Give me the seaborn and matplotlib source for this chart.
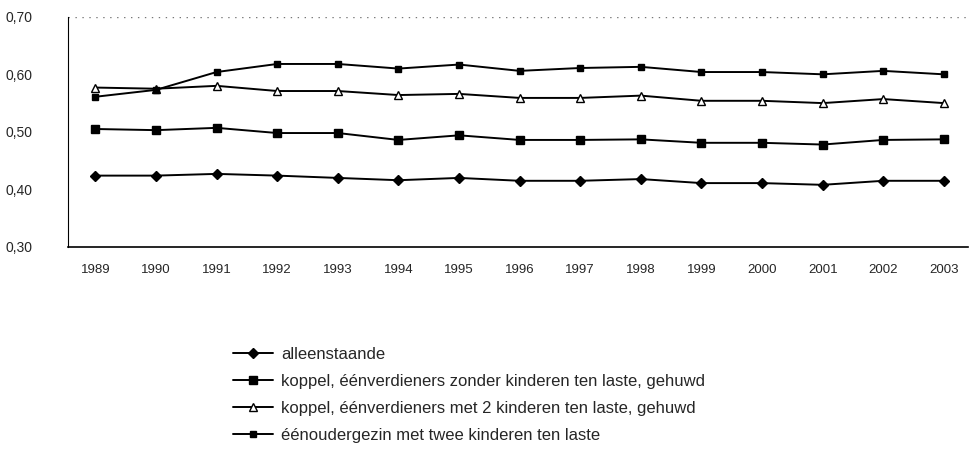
import numpy as np
import pandas as pd
import matplotlib
matplotlib.use("Agg")
import matplotlib.pyplot as plt
import seaborn as sns

# ========================
# Data
# ========================
years = list(range(1989, 2004))

alleenstaande = [0.424, 0.424, 0.427, 0.424, 0.420, 0.416, 0.420, 0.415,
                 0.415, 0.418, 0.411, 0.411, 0.408, 0.415, 0.415]
koppel_zonder = [0.505, 0.503, 0.507, 0.498, 0.498, 0.486, 0.494, 0.486,
                 0.486, 0.487, 0.481, 0.481, 0.478, 0.486, 0.487]
koppel_met2 = [0.577, 0.575, 0.580, 0.571, 0.571, 0.564, 0.566, 0.559,
               0.559, 0.563, 0.554, 0.554, 0.550, 0.557, 0.550]
eenouder = [0.561, 0.573, 0.604, 0.618, 0.618, 0.610, 0.617, 0.606,
            0.611, 0.613, 0.604, 0.604, 0.600, 0.606, 0.600]

labels = [
    "alleenstaande",
    "koppel, éénverdieners zonder kinderen ten laste, gehuwd",
    "koppel, éénverdieners met 2 kinderen ten laste, gehuwd",
    "éénoudergezin met twee kinderen ten laste",
]
yticks = [0.30, 0.40, 0.50, 0.60, 0.70]

series = [alleenstaande, koppel_zonder, koppel_met2, eenouder]
styles = [
    dict(marker="D", markersize=5, markerfacecolor="black"),
    dict(marker="s", markersize=6, markerfacecolor="black"),
    dict(marker="^", markersize=6, markerfacecolor="white"),
    dict(marker="s", markersize=4, markerfacecolor="black"),
]

df = pd.DataFrame({
    "jaar": years * len(series),
    "waarde": np.concatenate(series),
    "reeks": np.repeat(labels, len(years)),
})

# ========================
# Plot
# ========================
sns.set_style("white")
plt.rcParams["font.family"] = ["Liberation Sans", "DejaVu Sans"]

fig = plt.figure(figsize=(9.73, 4.66), dpi=100)
ax = fig.add_axes([0.070, 0.47, 0.925, 0.494])

for lab, st in zip(labels, styles):
    sub = df[df["reeks"] == lab]
    sns.lineplot(data=sub, x="jaar", y="waarde", ax=ax, color="black",
                 linewidth=1.4, markeredgecolor="black", markeredgewidth=1.0,
                 label=lab, **st)

ax.set_xlim(1988.55, 2003.4)
ax.set_ylim(0.30, 0.70)
ax.set_xticks(years)
ax.set_xticklabels([str(y) for y in years], fontsize=9.5)
ax.set_yticks(yticks)
ax.set_yticklabels([f"{v:.2f}".replace(".", ",") for v in yticks], fontsize=10)
ax.set_xlabel("")
ax.set_ylabel("")
ax.axhline(0.70, color="#777777", linestyle=(0, (1, 4)), linewidth=1.0)

sns.despine(ax=ax, top=True, right=True)
ax.spines["left"].set_color("black")
ax.spines["bottom"].set_color("black")
ax.spines["bottom"].set_linewidth(1.2)
ax.tick_params(axis="y", length=0, pad=45)
ax.tick_params(axis="x", length=0, pad=12)
for t in ax.get_yticklabels():
    t.set_horizontalalignment("left")

ax.get_legend().remove()
handles, labs = ax.get_legend_handles_labels()
fig.legend(handles, labs, loc="upper left", bbox_to_anchor=(0.224, 0.287),
           frameon=False, fontsize=12, handlelength=2.4, labelspacing=0.72,
           handletextpad=0.5)

plt.savefig("out.png", dpi=100)
plt.close()
